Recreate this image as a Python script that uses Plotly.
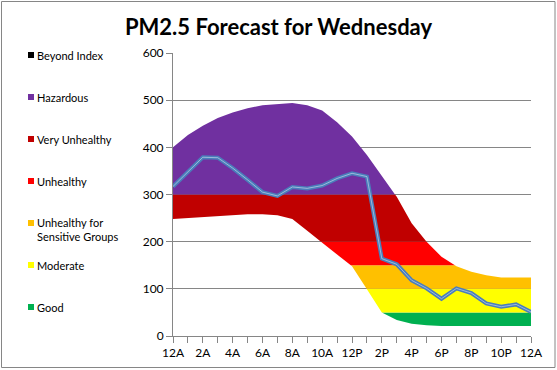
import plotly.graph_objects as go

# ---------------- data ----------------
hours = list(range(25))
tick_labels = ["12A", "2A", "4A", "6A", "8A", "10A", "12P", "2P", "4P", "6P", "8P", "10P", "12A"]
range_low = [248, 250, 252, 254, 256, 258, 258, 256, 248, 223, 198, 173, 148, 99, 50, 34, 26, 23, 21, 21, 21, 21, 21, 21, 21]
range_high = [400, 426, 446, 462, 474, 483, 489, 492, 494, 489, 478, 453, 423, 384, 338, 295, 239, 200, 168, 148, 136, 129, 124, 124, 124]
forecast = [317, 348, 379, 378, 356, 331, 305, 297, 316, 313, 319, 334, 345, 338, 164, 152, 118, 101, 79, 101, 91, 69, 62, 67, 51]

categories = ["Good", "Moderate", "Unhealthy for<br>Sensitive Groups", "Unhealthy", "Very Unhealthy", "Hazardous", "Beyond Index"]
cat_bounds = [(0, 50), (50, 100), (100, 150), (150, 200), (200, 300), (300, 500), (500, 10000)]
cat_colors = ["#00B050", "#FFFF00", "#FFC000", "#FF0000", "#C00000", "#7030A0", "#000000"]

# ---------------- geometry ----------------
W, H = 557, 370
L, R, T, B = 173, 531, 53, 336


def px(p):
    return (p - L) / (R - L)


def py(q):
    return (B - q) / (B - T)


def with_crossings(xs, ys, levels):
    ox, oy = [xs[0]], [ys[0]]
    for i in range(len(xs) - 1):
        x0, y0, x1, y1 = xs[i], ys[i], xs[i + 1], ys[i + 1]
        pts = []
        for lv in levels:
            if (y0 - lv) * (y1 - lv) < 0:
                t = (lv - y0) / (y1 - y0)
                pts.append((x0 + t * (x1 - x0), lv))
        pts.sort()
        for p in pts:
            ox.append(p[0]); oy.append(p[1])
        ox.append(x1); oy.append(y1)
    return ox, oy


def clip(v, lo, hi):
    return max(lo, min(hi, v))


fig = go.Figure()

for name, (lo, hi), col in zip(categories, cat_bounds, cat_colors):
    tx, ty = with_crossings(hours, range_high, [lo, hi])
    bx, by = with_crossings(hours, range_low, [lo, hi])
    ty = [clip(v, lo, hi) for v in ty]
    by = [clip(v, lo, hi) for v in by]
    xs = tx + bx[::-1] + [tx[0]]
    ys = ty + by[::-1] + [ty[0]]
    fig.add_trace(go.Scatter(x=xs, y=ys, fill="toself", fillcolor=col, mode="lines",
                             line=dict(width=0, color=col), name=name.replace("<br>", " "),
                             showlegend=False, hoverinfo="skip"))

fig.add_trace(go.Scatter(x=hours, y=forecast, mode="lines", line=dict(color="#4A7EBB", width=4),
                         showlegend=False, name="Forecast"))
fig.add_trace(go.Scatter(x=hours, y=forecast, mode="lines", line=dict(color="rgba(255,255,255,0.45)", width=1),
                         showlegend=False, hoverinfo="skip"))

# ---------------- legend (left side) ----------------
shapes = []
annotations = []
legend_y = [307, 265, 223, 181, 139, 97, 55]
for name, col, yc in zip(categories, cat_colors, legend_y):
    shapes.append(dict(type="rect", xref="paper", yref="paper", x0=px(28), x1=px(34),
                       y0=py(yc + 3), y1=py(yc - 3), fillcolor=col, line=dict(width=0)))
    if "<br>" in name:
        annotations.append(dict(xref="paper", yref="paper", x=px(35), y=py(yc - 9), xanchor="left",
                                yanchor="top", text=name, showarrow=False, align="left",
                                font=dict(size=11, color="#000000", family="Lato")))
    else:
        annotations.append(dict(xref="paper", yref="paper", x=px(35), y=py(yc), xanchor="left",
                                yanchor="middle", text=name, showarrow=False, align="left",
                                font=dict(size=11, color="#000000", family="Lato")))

# outer chart border
shapes.append(dict(type="rect", xref="paper", yref="paper", x0=px(1.5), x1=px(555), y0=py(367.5), y1=py(1.5),
                   line=dict(color="#868686", width=1), fillcolor="rgba(0,0,0,0)", layer="above"))

fig.update_layout(
    width=W, height=H,
    margin=dict(l=L, r=W - R, t=T, b=H - B, autoexpand=False),
    paper_bgcolor="white", plot_bgcolor="white",
    title=dict(text="<b>PM2.5 Forecast for Wednesday</b>", x=0.5, xanchor="center", xref="container",
               y=1 - 27 / H, yanchor="middle", yref="container",
               font=dict(size=22, color="#000000", family="Lato")),
    font=dict(family="Lato", size=12, color="#000000"),
    shapes=shapes, annotations=annotations,
    xaxis=dict(range=[0, 24], tickmode="array", tickvals=list(range(0, 25, 2)), ticktext=tick_labels,
               showgrid=False, zeroline=False, showline=True, linecolor="#868686", linewidth=1,
               ticks="outside", ticklen=6, tickcolor="#868686",
               minor=dict(tickmode="linear", tick0=0, dtick=1, ticks="outside", ticklen=6,
                          tickcolor="#868686", showgrid=False),
               tickfont=dict(size=12, family="Lato", color="#000000")),
    yaxis=dict(range=[0, 600], tickmode="linear", tick0=0, dtick=100, showgrid=True,
               gridcolor="#868686", gridwidth=1, zeroline=False, showline=True,
               linecolor="#868686", linewidth=1, ticks="outside", ticklen=6, tickcolor="#868686",
               tickfont=dict(size=12, family="Lato", color="#000000")),
)

fig.write_html("out.html", config={"displayModeBar": False},
               post_script="document.body.style.margin='0';document.body.style.overflow='hidden';")
